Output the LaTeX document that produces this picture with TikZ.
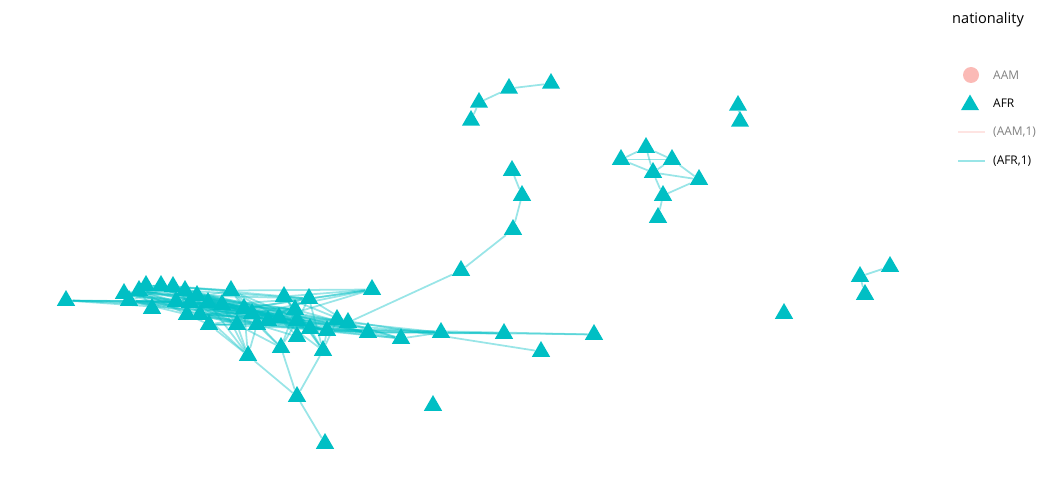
\documentclass[tikz,border=0pt]{standalone}
\usepackage{fontspec}
\setmainfont{Open Sans}
\usetikzlibrary{shapes.geometric, backgrounds}
\definecolor{afr}{RGB}{0, 191, 196}
\definecolor{aam}{RGB}{248, 118, 109}
\definecolor{keygrey}{RGB}{128, 128, 128}

\tikzset{
  vtx/.style={regular polygon, regular polygon sides=3, minimum size=0.42cm,
    inner sep=0, fill=afr},
  tie/.style={afr, opacity=0.4, line width=1pt},
  keytext/.style={anchor=west, font=\fontsize{6.8}{8}\selectfont},
}

\begin{document}
\begin{tikzpicture}[x=0.02cm, y=-0.02cm]

  \useasboundingbox (0, 0) rectangle (1050, 500);

  % vertices, in pixels of the plot
  \foreach \i/\x/\y in {1/66/298, 2/124/291, 3/129/298, 4/146/283, 5/139/288,
      6/152/306, 7/161/283, 8/173/284, 9/185/288, 10/197/293, 11/176/299,
      12/190/300, 13/208/300, 14/231/288, 15/222/302, 16/244/306, 17/209/322,
      18/187/312, 19/200/312, 20/237/322, 21/252/311, 22/257/322, 23/268/318,
      24/284/294, 25/295/307, 26/309/296, 27/297/318, 28/279/315, 29/310/326,
      30/327/328, 31/337/317, 32/348/320, 33/368/330, 34/372/287, 35/401/336,
      36/441/330, 37/504/331, 38/594/332, 39/541/349, 40/248/353, 41/281/345,
      42/297/334, 43/323/348, 44/297/394, 45/325/441, 46/461/268, 47/513/227,
      48/522/193, 49/512/168, 50/471/118, 51/479/100, 52/509/86, 53/551/81,
      54/433/403, 55/621/157, 56/646/145, 57/672/157, 58/653/170, 59/699/177,
      60/663/193, 61/658/215, 62/738/103, 63/740/119, 64/784/311, 65/860/274,
      66/890/264, 67/865/292} {
    \node[vtx] (n\i) at (\x, \y + 2.5) {};
  }

  \begin{scope}[on background layer]
    \foreach \a in {2,...,32} {
      \pgfmathtruncatemacro{\s}{\a + 1}
      \foreach \b in {\s,...,33} {
        \pgfmathtruncatemacro{\h}{mod(\a * 37 + \b * 53 + \a * \b * 11, 7)}
        \ifnum\h<2 \draw[tie] (n\a) -- (n\b); \fi
      }
    }
    \foreach \a/\b in {1/3, 1/11, 1/13, 1/15, 1/16, 1/21,
        34/14, 34/16, 34/24, 34/26, 34/21, 34/28,
        35/22, 35/25, 35/30, 35/31, 35/33, 35/36,
        36/23, 36/29, 36/32, 36/33, 36/37, 36/38, 36/30,
        37/33, 38/29, 39/31,
        40/17, 40/13, 40/15, 40/20, 40/12, 40/22, 40/16,
        41/20, 41/22, 41/16, 41/25, 41/27,
        42/25, 42/27, 42/28, 42/22,
        43/25, 43/29, 43/31, 43/24, 43/26, 43/28, 43/30,
        44/40, 44/41, 44/43, 45/44,
        46/32, 47/46, 48/47, 49/48,
        50/51, 51/52, 52/53,
        55/56, 55/57, 55/58, 56/57, 56/58, 57/58, 57/59, 58/59, 58/60,
        60/59, 60/61, 62/63, 65/66, 65/67} {
      \draw[tie] (n\a) -- (n\b);
    }
  \end{scope}

  % legend
  \node[anchor=west, font=\fontsize{8.3}{10}\selectfont] (title) at (946, 20) {nationality};

  \node[circle, fill=aam, fill opacity=0.5, minimum size=0.32cm, inner sep=0] (keyaam) at (971, 75) {};
  \node[keytext, text=keygrey] (labaam) at (987, 75) {AAM};

  \node[vtx] (keyafr) at (970, 105) {};
  \node[keytext] (labafr) at (987, 103) {AFR};

  \coordinate (aama) at (958, 132);
  \coordinate (aamb) at (985, 132);
  \draw[aam, opacity=0.2, line width=1pt] (aama) -- (aamb);
  \node[keytext, text=keygrey] (labaaml) at (987, 132) {(AAM,1)};

  \coordinate (afra) at (958, 161);
  \coordinate (afrb) at (985, 161);
  \draw[tie] (afra) -- (afrb);
  \node[keytext] (labafrl) at (987, 161) {(AFR,1)};

\end{tikzpicture}
\end{document}
